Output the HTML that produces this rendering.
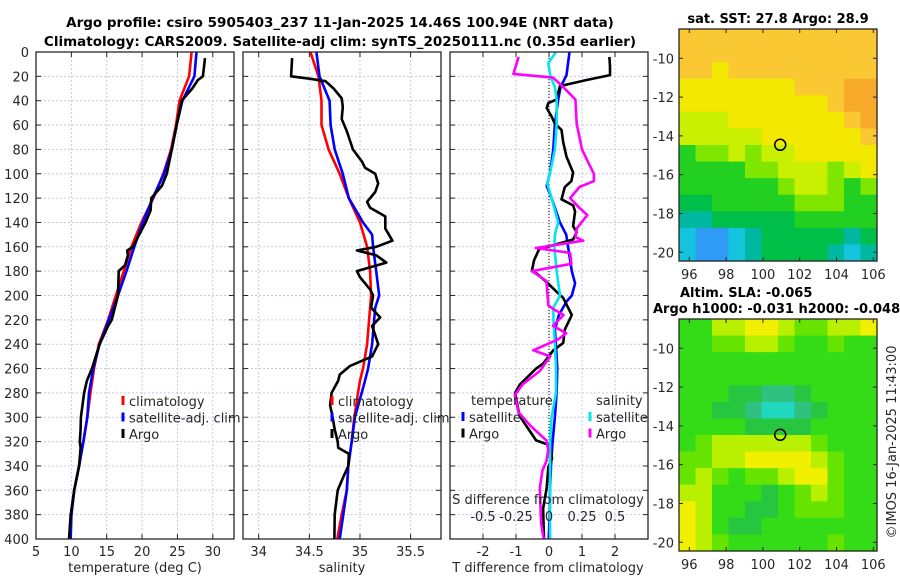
<!DOCTYPE html>
<html><head><meta charset="utf-8"><style>
html,body{margin:0;padding:0;background:#fff;}
svg{display:block;font-family:"DejaVu Sans","Liberation Sans",sans-serif;}
</style></head><body>
<svg id="fig" width="900" height="580" viewBox="0 0 900 580"></svg>
<script>
// ---------- data ----------
const depthTicks=[0,20,40,60,80,100,120,140,160,180,200,220,240,260,280,300,320,340,360,380,400];
const tempTicks=[5,10,15,20,25,30];
const salTicks=[34,34.5,35,35.5];
const tdiffTicks=[-2,-1,0,1,2];
const sdiffTicks=[-0.5,-0.25,0,0.25,0.5];
const sdiffTickLabels=["-0.5","-0.25","0","0.25","0.5"];
const latTicks=[-10,-12,-14,-16,-18,-20];
const lonTicks=[96,98,100,102,104,106];

const tempClimDepth=[0,20,40,60,80,100,120,140,160,180,200,220,240,260,280,300,320,340,360,380,400];
const tempClimVal=[27.0,26.65,25.3,24.8,24.1,23.0,21.6,19.9,18.5,17.4,16.3,15.2,13.9,13.2,12.7,12.25,11.7,11.1,10.4,10.0,9.8];
const tempSatDepth=[0,20,40,60,80,100,120,140,160,180,200,220,240,260,280,300,320,340,360,380,400];
const tempSatVal=[27.7,27.4,25.7,24.9,24.2,23.1,21.5,20.1,18.9,17.8,16.6,15.3,14.0,13.1,12.5,12.25,11.7,11.1,10.4,10.0,9.9];
const tempArgoDepth=[5,20,23,30,40,60,80,100,110,120,130,140,150,160,163,167,175,180,200,220,225,240,260,270,280,300,310,320,325,340,360,380,400];
const tempArgoVal=[28.9,28.6,27.9,27.1,25.6,24.9,24.2,23.5,22.8,21.3,21.2,20.5,19.6,18.7,17.9,18.0,17.6,16.7,16.6,15.7,15.2,14.0,12.9,12.2,11.8,11.35,11.3,11.2,11.3,11.1,10.4,9.9,9.66];

const salClimDepth=[0,20,40,60,80,100,120,140,160,180,200,220,240,260,270,280,300,320,340,360,380,400];
const salClimVal=[34.51,34.59,34.62,34.62,34.69,34.80,34.89,35.0,35.07,35.10,35.11,35.09,35.07,35.03,35.0,34.98,34.944,34.918,34.885,34.87,34.82,34.776];
const salSatDepth=[0,20,40,60,80,100,120,140,150,160,180,200,210,240,260,270,280,300,320,340,360,380,400];
const salSatVal=[34.57,34.60,34.70,34.71,34.75,34.83,34.89,35.03,35.12,35.13,35.16,35.19,35.15,35.12,35.08,35.05,35.017,34.95,34.918,34.885,34.87,34.835,34.80];
const salArgoDepth=[5,20,22,24,30,38,45,55,65,80,90,95,100,108,115,123,128,135,145,155,160,163,167,173,180,185,195,200,210,218,225,235,240,250,258,265,270,280,290,300,310,320,325,330,340,350,360,380,400];
const salArgoVal=[34.33,34.32,34.51,34.66,34.74,34.82,34.83,34.82,34.87,34.93,35.02,35.05,35.15,35.18,35.15,35.07,35.10,35.25,35.25,35.32,35.16,34.97,35.16,35.26,34.97,35.0,35.10,35.13,35.11,35.20,35.12,35.16,35.18,35.12,34.9,34.8,34.785,34.72,34.705,34.73,34.75,34.78,34.785,34.89,34.885,34.83,34.78,34.75,34.747];

const tdSatDepth=[0,19,29,39,59,80,99,110,120,140,150,160,180,190,200,205,216,228,240,260,280,300,320,340,360,380,400];
const tdSatVal=[0.62,0.53,0.35,0.28,0.18,0.13,0.03,-0.07,0.08,0.33,0.52,0.58,0.69,0.79,0.69,0.53,0.30,0.18,0.21,0.25,0.23,0.18,0.11,0.06,0.03,0.02,-0.01];
const tdArgoDepth=[4,12,19,23,28,39,42,46,53,59,64,74,86,99,106,111,121,126,131,143,148,154,162,171,180,182,189,197,202,216,228,239,245,256,260,273,280,299,319,323,334,341,358,375,400];
const tdArgoVal=[1.83,1.85,1.85,1.14,0.33,0.23,-0.02,-0.07,0.08,0.18,0.38,0.43,0.53,0.73,0.68,0.48,0.38,0.73,0.79,0.73,0.84,0.73,-0.3,-0.45,-0.52,-0.37,-0.07,0.23,0.43,0.69,0.48,0.43,0.13,-0.18,-0.39,-0.88,-1.03,-0.89,-0.39,0.03,0.09,-0.02,-0.07,-0.18,-0.15];
const sdSatDepth=[0,9,19,29,39,59,80,99,108,120,140,150,160,180,200,210,220,240,260,280,300,320,340,360,380,400];
const sdSatVal=[0.053,-0.005,0.008,0.045,0.058,0.058,0.045,0.008,-0.013,0.02,0.07,0.045,0.04,0.058,0.083,0.033,0.033,0.045,0.053,0.053,0.02,0.008,0.008,0.008,0.008,0.008];
const sdArgoDepth=[4,18,21,29,39,59,80,89,100,106,111,120,128,134,145,152,155,161,165,174,180,188,208,211,216,225,231,236,245,250,262,273,282,296,307,319,327,336,344,358,387,400];
const sdArgoVal=[-0.23,-0.27,0.03,0.11,0.20,0.21,0.25,0.29,0.34,0.34,0.23,0.16,0.23,0.29,0.21,0.20,0.26,-0.10,0.16,0.17,-0.13,-0.02,-0.005,0.03,0.11,0.03,0.13,0.07,-0.12,0.01,-0.07,-0.2,-0.26,-0.23,-0.14,-0.02,-0.005,-0.02,-0.05,-0.07,-0.06,-0.04];

// map colour-level grids (12 lon cols x 14 lat rows, north to south)
const sstGrid=[
[8,8,8,8,8,8,8,8,8,8,8,8],
[8,8,8,8,8,8,8,8,8,8,8,8],
[8,8,7,8,8,8,8,8,8,8,8,8],
[7,7,7,7,7,7,7,8,8,8,9,9],
[7,7,7,7,7,7,7,7,7,8,9,9],
[6,6,6,7,7,7,7,7,7,7,8,9],
[6,6,6,6,6,7,7,7,7,7,7,8],
[4,5,5,6,5,6,6,7,7,7,7,7],
[4,4,4,4,5,5,6,6,6,5,6,7],
[4,4,4,4,4,4,5,6,6,5,4,5],
[3,3,4,4,4,4,4,5,5,5,4,4],
[2,2,3,3,3,3,3,4,4,4,4,4],
[1,0,0,1,2,3,3,3,3,3,2,3],
[1,0,0,1,2,3,3,3,3,2,1,2]];
const slaGrid=[
[4,4,6,6,7,7,6,5,5,6,6,7],
[4,4,5,5,6,6,5,4,4,5,4,4],
[4,4,4,4,4,4,4,4,4,4,4,4],
[4,4,4,4,4,4,4,4,4,4,4,4],
[4,4,4,3,3,2,2,3,4,4,4,4],
[4,4,3,3,2,1,1,2,3,4,4,4],
[4,4,4,4,3,3,3,3,4,4,4,4],
[4,5,6,6,6,6,6,6,5,4,4,4],
[5,5,6,6,7,7,7,7,6,5,4,4],
[5,6,5,4,5,5,6,7,7,5,4,4],
[6,6,4,4,4,3,4,5,6,5,4,4],
[7,6,4,4,3,3,4,5,5,5,4,4],
[7,6,4,3,3,4,4,4,4,4,4,4],
[7,6,5,4,4,4,4,4,4,5,4,4]];
const sstColors=["#2e9cf4","#14c4dc","#00b8a0","#00bf48","#22d022","#7fe600","#c8f000","#f2e800","#fac832","#f7aa2a"];
const slaColors=["#2e9cf4","#20d8c0","#30c080","#26c640","#34dc18","#66e400","#b8f000","#f0f000"];
const argoLon=[100.94], argoLat=[-14.46];

// ---------- helpers ----------
const NS="http://www.w3.org/2000/svg";
const svg=document.getElementById('fig');
function el(tag,attrs,parent){const e=document.createElementNS(NS,tag);for(const k in attrs)e.setAttribute(k,attrs[k]);(parent||svg).appendChild(e);return e;}
function txt(x,y,s,attrs,parent){const t=el('text',Object.assign({x:x,y:y,'font-size':13,fill:'#262626'},attrs||{}),parent);t.textContent=s;return t;}

const PT=52, PB=539;
const yD=d=>PT+(d/400)*(PB-PT);
function linScale(d0,d1,r0,r1){return v=>r0+(v-d0)/(d1-d0)*(r1-r0);}

function panel(name,x0,x1,xs,xticks,showY){
  const g=el('g',{});
  
  
  el('rect',{x:x0,y:PT,width:x1-x0,height:PB-PT,fill:'#fff'},g);
  depthTicks.forEach(d=>{el('line',{x1:x0,x2:x1,y1:yD(d),y2:yD(d),stroke:'#c5c9e6','stroke-width':1,'stroke-dasharray':'2,2'},g);});
  xticks.forEach(v=>{el('line',{x1:xs(v),x2:xs(v),y1:PT,y2:PB,stroke:'#c5c9e6','stroke-width':1,'stroke-dasharray':'2,2'},g);});
  depthTicks.forEach(d=>{el('line',{x1:x0,x2:x0+5,y1:yD(d),y2:yD(d),stroke:'#262626'},g);el('line',{x1:x1-5,x2:x1,y1:yD(d),y2:yD(d),stroke:'#262626'},g);});
  xticks.forEach(v=>{el('line',{x1:xs(v),x2:xs(v),y1:PB,y2:PB-5,stroke:'#262626'},g);el('line',{x1:xs(v),x2:xs(v),y1:PT,y2:PT+5,stroke:'#262626'},g);});
  if(showY){depthTicks.forEach(d=>{const t=txt(29,yD(d)+5,String(d),{'text-anchor':'end'},g);});}
  return g;
}
function frame(g,x0,x1){el('rect',{x:x0,y:PT,width:x1-x0,height:PB-PT,fill:'none',stroke:'#262626','stroke-width':1.3},g);}
function series(g,name,depths,vals,xs,color){
  const pts=depths.map((d,i)=>xs(vals[i]).toFixed(1)+','+yD(d).toFixed(1)).join(' ');
  const p=el('polyline',{points:pts,fill:'none',stroke:color,'stroke-width':2.6,'stroke-linejoin':'round'},g);
  
  
}

// ---------- titles ----------
let t=txt(340,27,"Argo profile: csiro 5905403_237 11-Jan-2025 14.46S 100.94E (NRT data)",{'text-anchor':'middle','font-weight':'bold','font-size':13.5,fill:'#000'});

t=txt(340,46,"Climatology: CARS2009. Satellite-adj clim: synTS_20250111.nc (0.35d earlier)",{'text-anchor':'middle','font-weight':'bold','font-size':13.5,fill:'#000'});


// ---------- temperature panel ----------
const xT=linScale(5,33,36,234);
let g1=panel('temperature-panel',36,234,xT,tempTicks,true);
series(g1,'temp-climatology-line',tempClimDepth,tempClimVal,xT,'#ff0000');
series(g1,'temp-satellite-line',tempSatDepth,tempSatVal,xT,'#0000ff');
series(g1,'temp-argo-line',tempArgoDepth,tempArgoVal,xT,'#000000');
frame(g1,36,234);
tempTicks.forEach(v=>{const q=txt(xT(v),556,String(v),{'text-anchor':'middle'});});
t=txt(135,572,"temperature (deg C)",{'text-anchor':'middle'});

function legend(x,y,labels,colors,prefix){
  labels.forEach((s,i)=>{
    const lg=el('g',{});
    
    
    el('line',{x1:x,x2:x,y1:y+i*16.5-10,y2:y+i*16.5-1,stroke:colors[i],'stroke-width':3},lg);
    txt(x+6,y+i*16.5,s,{},lg);
  });
}
legend(123,406,["climatology","satellite-adj. clim","Argo"],["#ff0000","#0000ff","#000000"],'temp');

// ---------- salinity panel ----------
const xS=linScale(33.845,35.8,243,441);
let g2=panel('salinity-panel',243,441,xS,salTicks,false);
series(g2,'sal-climatology-line',salClimDepth,salClimVal,xS,'#ff0000');
series(g2,'sal-satellite-line',salSatDepth,salSatVal,xS,'#0000ff');
series(g2,'sal-argo-line',salArgoDepth,salArgoVal,xS,'#000000');
frame(g2,243,441);
legend(332,406,["climatology","satellite-adj. clim","Argo"],["#ff0000","#0000ff","#000000"],'sal');
salTicks.forEach(v=>{const q=txt(xS(v),556,String(v),{'text-anchor':'middle'});});
t=txt(342,572,"salinity",{'text-anchor':'middle'});

// ---------- difference panel ----------
const xD=linScale(-3,3,450,648);
const xSD=v=>xD(v*4);
let g3=panel('difference-panel',450,648,xD,tdiffTicks,false);
el('line',{x1:xD(0),x2:xD(0),y1:PT,y2:PB,stroke:'#000','stroke-width':1,'stroke-dasharray':'1,2'},g3);
series(g3,'tdiff-satellite-line',tdSatDepth,tdSatVal,xD,'#0000ff');
series(g3,'tdiff-argo-line',tdArgoDepth,tdArgoVal,xD,'#000000');
series(g3,'sdiff-satellite-line',sdSatDepth,sdSatVal,xSD,'#00e5ee');
series(g3,'sdiff-argo-line',sdArgoDepth,sdArgoVal,xSD,'#ff00ff');
frame(g3,450,648);
t=txt(471,405,"temperature",{});
t=txt(596,405,"salinity",{});
legend(463,422,["satellite","Argo"],["#0000ff","#000000"],'tdiff');
legend(590,422,["satellite","Argo"],["#00e5ee","#ff00ff"],'sdiff');
t=txt(548,504,"S difference from climatology",{'text-anchor':'middle'});
sdiffTicks.forEach((v,i)=>{const q=txt(xSD(v),521,sdiffTickLabels[i],{'text-anchor':'middle'});});
tdiffTicks.forEach(v=>{const q=txt(xD(v),556,String(v),{'text-anchor':'middle'});});
t=txt(548,572,"T difference from climatology",{'text-anchor':'middle'});

// ---------- maps ----------
function drawMap(name,top,bottom,grid,colors,titleLines){
  const L=679,R=877;
  const lonS=linScale(95.44,106.2,L,R);
  const latS=linScale(-8.49,-20.45,top,bottom);
  const g=el('g',{});
  
  
  const nr=grid.length,nc=grid[0].length;
  const cw=(R-L)/nc,ch=(bottom-top)/nr;
  grid.forEach((row,r)=>row.forEach((v,c)=>{
    const cell=el('rect',{x:(L+c*cw).toFixed(2),y:(top+r*ch).toFixed(2),width:(cw+0.6).toFixed(2),height:(ch+0.6).toFixed(2),fill:colors[v]},g);
    
    
  }));
  el('rect',{x:L,y:top,width:R-L,height:bottom-top,fill:'none',stroke:'#262626','stroke-width':1.3},g);
  latTicks.forEach(v=>{const y=latS(v);el('line',{x1:L,x2:L+4,y1:y,y2:y,stroke:'#262626'},g);el('line',{x1:R-4,x2:R,y1:y,y2:y,stroke:'#262626'},g);
    const q=txt(L-5,y+5,String(v),{'text-anchor':'end'},g);});
  lonTicks.forEach(v=>{const x=lonS(v);el('line',{x1:x,x2:x,y1:bottom,y2:bottom-4,stroke:'#262626'},g);el('line',{x1:x,x2:x,y1:top,y2:top+4,stroke:'#262626'},g);
    const q=txt(x,bottom+18,String(v),{'text-anchor':'middle'},g);});
  const m=el('circle',{cx:lonS(argoLon[0]),cy:latS(argoLat[0]),r:5.5,fill:'none',stroke:'#000','stroke-width':1.5},g);
  
  
  titleLines.forEach((s,i)=>{const q=txt(s[1],s[2],s[0],{'text-anchor':s[3],'font-weight':'bold','font-size':13,fill:'#000'},g);});
}
drawMap('sst-map',29,261,sstGrid,sstColors,[["sat. SST: 27.8 Argo: 28.9",778,23,'middle']]);
drawMap('sla-map',319,551,slaGrid,slaColors,[["Altim. SLA: -0.065",680,297,'start'],["Argo h1000: -0.031 h2000: -0.048",653,313,'start']]);

t=txt(0,0,"©IMOS 16-Jan-2025 11:43:00",{transform:'translate(896,442) rotate(-90)','text-anchor':'middle','font-size':13});

</script>
</body></html>
